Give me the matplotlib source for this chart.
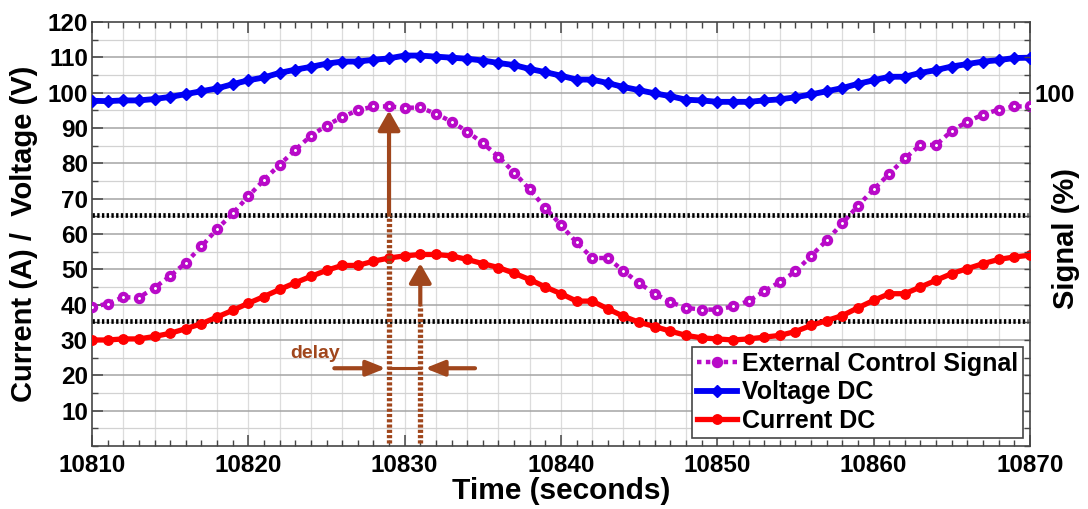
import numpy as np
import matplotlib
matplotlib.use("Agg")
import matplotlib.pyplot as plt
from matplotlib.ticker import MultipleLocator, FixedLocator

plt.rcParams['font.family'] = ['Liberation Sans', 'DejaVu Sans']
plt.rcParams['font.weight'] = 'bold'

# Sampled once per second
time = np.arange(10810, 10871)

voltage = [97.7, 97.6, 97.8, 97.8, 98.2, 98.8, 99.6, 100.4, 101.2, 102.4,
           103.5, 104.3, 105.6, 106.5, 107.3, 108.2, 108.8, 108.8, 109.3, 109.7,
           110.5, 110.5, 110.2, 109.9, 109.6, 109.1, 108.4, 107.8, 106.7, 105.8,
           104.8, 103.7, 103.7, 102.7, 101.6, 100.7, 99.8, 99.0, 98.0, 97.8,
           97.4, 97.4, 97.4, 97.8, 98.1, 98.7, 99.5, 100.4, 101.3, 102.5,
           103.5, 104.5, 104.5, 105.6, 106.4, 107.4, 108.1, 108.8, 109.2, 109.8,
           109.9]

signal = [39.3, 40.3, 42.1, 42.0, 44.8, 48.1, 51.9, 56.5, 61.4, 65.8,
          70.7, 75.3, 79.6, 83.8, 87.8, 90.7, 93.1, 95.0, 96.1, 96.1,
          95.7, 95.8, 94.0, 91.8, 89.0, 85.7, 81.9, 77.4, 72.6, 67.4,
          62.5, 57.6, 53.2, 53.2, 49.5, 46.1, 43.1, 40.7, 39.1, 38.6,
          38.6, 39.5, 41.0, 43.8, 46.4, 49.4, 53.8, 58.2, 63.0, 68.0,
          72.6, 77.0, 81.4, 85.2, 85.2, 89.2, 91.8, 93.8, 95.2, 96.1,
          96.1]

current = [30.0, 30.0, 30.3, 30.3, 31.0, 31.9, 33.2, 34.6, 36.5, 38.4,
           40.4, 42.3, 44.3, 46.2, 48.0, 49.7, 51.1, 51.1, 52.3, 53.2,
           53.8, 54.2, 54.2, 53.8, 52.8, 51.6, 50.5, 48.9, 47.1, 45.0,
           43.1, 41.0, 41.0, 38.8, 36.7, 35.0, 33.8, 32.5, 31.3, 30.6,
           30.3, 30.0, 30.3, 30.8, 31.3, 32.4, 34.1, 35.5, 36.9, 39.1,
           41.2, 43.1, 43.1, 45.0, 46.9, 48.8, 50.2, 51.6, 52.8, 53.5,
           54.0]

# switching thresholds
upper_level = 65.5
lower_level = 35.3

# peak of the control signal and peak of the current
t_signal_peak = 10829
t_current_peak = 10831

brown = '#A0461C'
purple = '#B80AC8'

fig = plt.figure(figsize=(10.88, 5.09), dpi=100)
ax = fig.add_axes([0.0846, 0.1238, 0.862, 0.8330])

# grid
for t in np.arange(10812, 10870, 2):
    ax.axvline(t, color='#dcdcdc', lw=0.9, zorder=0)
for v in np.arange(5, 120, 10):
    ax.axhline(v, color='#d2d2d2', lw=0.9, zorder=0)
for v in np.arange(10, 120, 10):
    ax.axhline(v, color='#a4a4a4', lw=1.1, zorder=0)

dots = (0, (0.5, 0.5))
ax.axhline(upper_level, xmax=0.998, color='black', lw=3.4, ls=dots, zorder=2)
ax.axhline(lower_level, xmax=0.998, color='black', lw=3.4, ls=dots, zorder=2)

ax.plot(time, signal, ls=(0, (1, 1)), lw=3.2, color=purple, marker='o', ms=5.2,
        mfc='white', mec=purple, mew=3.0, zorder=4, label='External Control Signal')
ax.plot(time, voltage, '-', lw=4.2, color='#0000F5', marker='D', ms=6.2,
        zorder=4, label='Voltage DC')
ax.plot(time, current, '-', lw=3.8, color='#FF0000', marker='o', ms=6.8,
        zorder=4, label='Current DC')

# delay markers
i_sig = list(time).index(t_signal_peak)
i_cur = list(time).index(t_current_peak)
brown_dots = (0, (0.6, 0.4))
ax.plot([t_signal_peak, t_signal_peak], [0.8, upper_level], color=brown, lw=3.8,
        ls=brown_dots, zorder=5)
ax.annotate('', xy=(t_signal_peak, signal[i_sig] - 1.2), xytext=(t_signal_peak, upper_level),
            arrowprops=dict(arrowstyle='-|>,head_length=0.42,head_width=0.24', color=brown,
                            lw=3.0, mutation_scale=28, shrinkA=0, shrinkB=0), zorder=6)
ax.plot([t_current_peak, t_current_peak], [0.8, 40], color=brown, lw=3.8,
        ls=brown_dots, zorder=5)
ax.annotate('', xy=(t_current_peak, current[i_cur] - 2.5), xytext=(t_current_peak, 40),
            arrowprops=dict(arrowstyle='-|>,head_length=0.42,head_width=0.24', color=brown,
                            lw=3.0, mutation_scale=28, shrinkA=0, shrinkB=0), zorder=6)

ax.plot([t_signal_peak, t_current_peak], [22, 22], color=brown, lw=2.2, zorder=5)
ax.annotate('', xy=(t_signal_peak - 0.2, 22), xytext=(t_signal_peak - 3.5, 22),
            arrowprops=dict(arrowstyle='-|>,head_length=0.5,head_width=0.2', color=brown,
                            lw=3.0, mutation_scale=23, shrinkA=0, shrinkB=0), zorder=6)
ax.annotate('', xy=(t_current_peak + 0.3, 22), xytext=(t_current_peak + 3.5, 22),
            arrowprops=dict(arrowstyle='-|>,head_length=0.5,head_width=0.2', color=brown,
                            lw=3.0, mutation_scale=23, shrinkA=0, shrinkB=0), zorder=6)
ax.text(10822.7, 26.3, 'delay', color=brown, fontsize=14, fontweight='bold',
        ha='left', va='center', zorder=6)

ax.set_xlim(10810, 10870)
ax.set_ylim(0, 120)
ax.xaxis.set_major_locator(MultipleLocator(10))
ax.xaxis.set_minor_locator(MultipleLocator(1))
ax.yaxis.set_major_locator(FixedLocator(np.arange(10, 121, 10)))
ax.yaxis.set_minor_locator(MultipleLocator(5))
ax.tick_params(which='both', direction='in', top=True, right=False, colors='#454545',
               labelcolor='black')
ax.tick_params(which='major', length=8, width=1.1, labelsize=17.5)
ax.tick_params(which='minor', length=4, width=1.0)
ax.tick_params(axis='x', which='major', pad=6)
ax.tick_params(axis='y', which='major', pad=3)
for lab in ax.get_xticklabels() + ax.get_yticklabels():
    lab.set_fontweight('bold')
for s in ax.spines.values():
    s.set_color('#454545')
    s.set_linewidth(1.2)

ax.set_xlabel('Time (seconds)', fontsize=21.5, fontweight='bold', labelpad=0)
ax.set_ylabel('Current (A) /  Voltage (V)', fontsize=21, fontweight='bold')
ax.yaxis.set_label_coords(-0.058, 0.5)

# right axis for the control signal
ax2 = ax.twinx()
ax2.set_ylim(0, 120)
ax2.yaxis.set_major_locator(FixedLocator([100]))
ax2.yaxis.set_minor_locator(MultipleLocator(5))
ax2.tick_params(which='both', direction='in', colors='#454545', labelcolor='black')
ax2.tick_params(which='major', length=8, width=1.1, labelsize=17.5, pad=3)
ax2.tick_params(which='minor', length=4, width=1.0)
for lab in ax2.get_yticklabels():
    lab.set_fontweight('bold')
for s in ax2.spines.values():
    s.set_visible(False)
ax2.set_ylabel('Signal (%)', fontsize=21, fontweight='bold')
ax2.yaxis.set_label_coords(1.0235, 0.49)

leg = ax.legend(loc='lower right', bbox_to_anchor=(0.9925, 0.019),
                prop={'weight': 'bold', 'size': 18}, frameon=True, fancybox=False,
                edgecolor='#454545', framealpha=1, handlelength=1.6, handletextpad=0.2,
                borderpad=0.2, labelspacing=0.18, borderaxespad=0)
leg.get_frame().set_linewidth(1.2)
leg.set_zorder(10)
leg_handles = leg.legend_handles
leg_handles[0].set_markerfacecolor(purple)

fig.savefig('out.png', dpi=100)
